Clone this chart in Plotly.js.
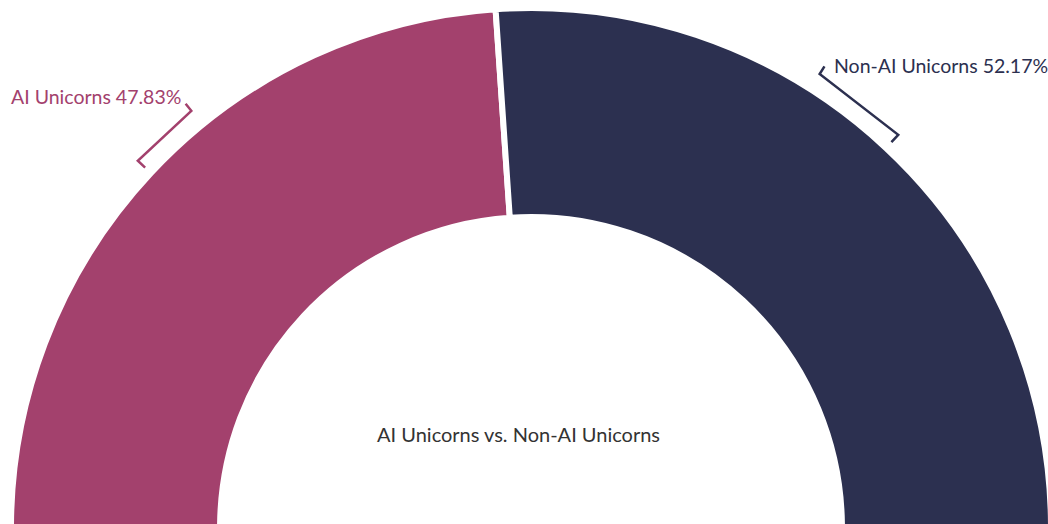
<!DOCTYPE html>
<html>
<head>
<meta charset="utf-8">
<script src="https://cdn.plot.ly/plotly-3.0.1.min.js"></script>
<style>
html, body { margin: 0; padding: 0; background: #fff; overflow: hidden; width: 1048px; height: 524px; }
#wrap { width: 1048px; height: 524px; overflow: hidden; position: relative; }
#chart { width: 1062px; height: 1062px; position: absolute; left: 0; top: 0; }
</style>
</head>
<body>
<div id="wrap"><div id="chart"></div></div>
<script>
// ---- data ----
const categories = ['AI Unicorns', 'Non-AI Unicorns'];
const shares = [47.83, 52.17];
const sliceColors = ['#a3416d', '#2c3050'];
const chartTitle = 'AI Unicorns vs. Non-AI Unicorns';

// ---- geometry (pixels within the plot) ----
const W = 1062, H = 1062;
const cx = 531, cy = 528, R = 520;
const holeFrac = 0.598;
const px = x => x / W;
const py = y => 1 - y / H;

const total = shares.reduce((a, b) => a + b, 0);

const trace = {
  type: 'pie',
  values: shares.concat([total]),
  labels: categories.concat(['']),
  sort: false,
  direction: 'clockwise',
  rotation: -90,
  hole: holeFrac,
  textinfo: 'none',
  hoverinfo: 'skip',
  showlegend: false,
  domain: { x: [px(cx - R), px(cx + R)], y: [py(cy + R), py(cy - R)] },
  marker: {
    colors: sliceColors.concat(['rgba(0,0,0,0)']),
    line: { color: '#ffffff', width: [6, 6, 0] }
  }
};

// bracket-style label connectors, computed from slice angles
const shapes = [];
const annotations = [];
let cum = 0;
const rb = 538;
const spans = [7.8, 10.6];
const shifts = [[-3, 7], [8, 1]];
function pt(r, deg) {
  const a = deg * Math.PI / 180;
  return [cx + r * Math.cos(a), cy - r * Math.sin(a)];
}
shares.forEach((v, i) => {
  const midFrac = (cum + v / 2) / total; // fraction of semicircle from left
  cum += v;
  const mid = 180 - midFrac * 180;
  const left = mid > 90;
  const far = mid;                                   // end at slice middle
  const near = left ? mid - spans[i] : mid + spans[i]; // end toward top
  const p0 = pt(rb - 10, far), p1 = pt(rb, far), p2 = pt(rb, near), p3 = pt(rb + 9, near);
  const path = 'M ' + [p0, p1, p2, p3].map(p => px(p[0]) + ' ' + py(p[1])).join(' L ');
  shapes.push({
    type: 'path', xref: 'paper', yref: 'paper', path: path,
    line: { color: sliceColors[i], width: 2.5 }
  });
  annotations.push({
    xref: 'paper', yref: 'paper',
    x: px(p3[0]), y: py(p3[1]),
    text: categories[i] + ' ' + v.toFixed(2) + '%',
    showarrow: false,
    xanchor: left ? 'right' : 'left',
    yanchor: 'middle',
    xshift: shifts[i][0],
    yshift: shifts[i][1],
    font: { family: 'Lato, sans-serif', size: 19.5, color: sliceColors[i] }
  });
});

annotations.push({
  xref: 'paper', yref: 'paper',
  x: px(518), y: py(434),
  text: chartTitle,
  showarrow: false,
  xanchor: 'center', yanchor: 'middle',
  font: { family: 'Lato, sans-serif', size: 20, color: '#333333' }
});

const layout = {
  width: W, height: H,
  margin: { l: 0, r: 0, t: 0, b: 0, pad: 0 },
  paper_bgcolor: '#ffffff',
  plot_bgcolor: '#ffffff',
  showlegend: false,
  shapes: shapes,
  annotations: annotations
};

Plotly.newPlot('chart', [trace], layout, { displayModeBar: false, staticPlot: true });
</script>
</body>
</html>
